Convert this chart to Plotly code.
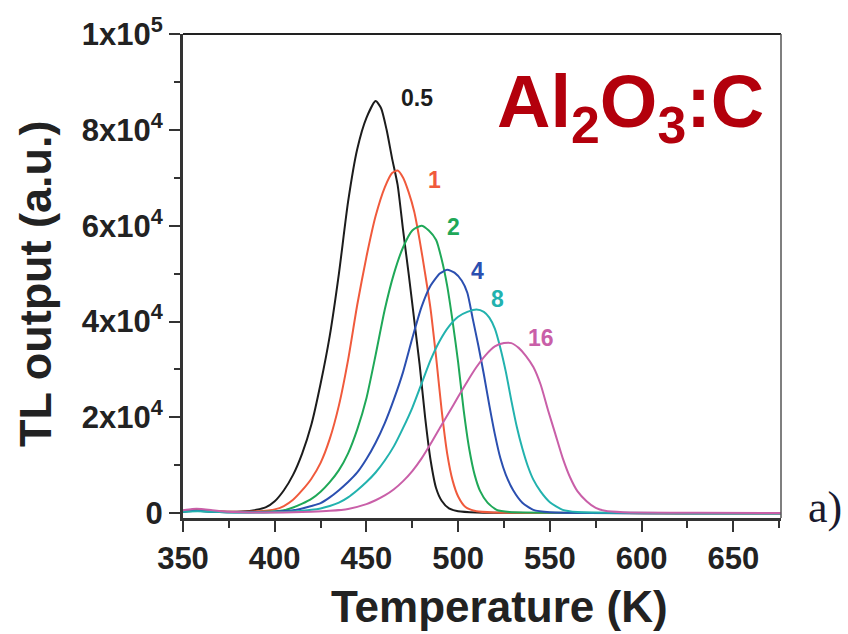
import plotly.graph_objects as go

# ---- data ----
T_05 = [350, 358, 366, 374, 382, 390, 395, 400, 405, 410, 415, 420, 425, 430, 435, 440, 445, 450, 455, 458, 461, 464, 467, 470, 473, 476, 479, 482, 485, 488, 491, 495, 500, 510, 540, 600, 676]
I_05 = [500, 700, 400, 300, 350, 700, 1200, 2500, 4800, 8000, 12500, 18500, 27000, 37000, 50000, 65000, 76000, 82500, 86000, 84500, 80000, 74000, 68500, 59000, 50000, 40500, 31000, 20000, 11000, 5200, 2600, 1000, 400, 150, 50, 0, 0]

T_1 = [350, 358, 366, 374, 382, 390, 400, 405, 410, 415, 420, 425, 430, 435, 440, 445, 450, 455, 460, 464, 467, 470, 473, 476, 479, 482, 485, 488, 491, 494, 497, 500, 504, 510, 520, 560, 620, 676]
I_1 = [400, 600, 400, 300, 300, 400, 800, 1500, 2800, 4800, 7200, 10500, 15500, 22500, 32000, 43500, 53500, 62000, 68000, 71000, 71500, 70000, 67000, 63000, 57000, 50000, 42500, 32500, 21500, 12500, 6800, 3500, 1300, 400, 150, 50, 0, 0]

T_2 = [350, 358, 366, 374, 382, 390, 400, 405, 410, 415, 420, 425, 430, 435, 440, 445, 450, 455, 460, 465, 470, 475, 480, 484, 488, 491, 494, 497, 500, 503, 506, 509, 512, 516, 521, 528, 560, 620, 676]
I_2 = [300, 500, 300, 200, 200, 250, 400, 600, 1200, 2000, 3000, 4500, 6500, 9000, 12500, 17500, 24000, 33000, 42500, 50000, 55500, 59000, 60000, 59000, 57000, 53000, 47500, 40000, 31500, 21500, 13500, 8000, 4600, 2200, 700, 250, 80, 0, 0]

T_4 = [350, 358, 366, 374, 382, 390, 400, 410, 415, 420, 425, 430, 435, 440, 445, 450, 455, 460, 465, 470, 475, 480, 485, 490, 494, 498, 502, 505, 508, 511, 514, 517, 520, 523, 526, 530, 535, 541, 550, 580, 630, 676]
I_4 = [300, 500, 300, 200, 200, 200, 300, 600, 1000, 1500, 2100, 3300, 4800, 6500, 8500, 11300, 14700, 18800, 23800, 29500, 36500, 43000, 47500, 50000, 50800, 50200, 48500, 46000, 40500, 35000, 29000, 22500, 16500, 11500, 8000, 4800, 2200, 700, 200, 50, 0, 0]

T_8 = [350, 358, 366, 374, 382, 390, 400, 410, 415, 420, 425, 430, 435, 440, 445, 450, 455, 460, 465, 470, 475, 480, 485, 490, 495, 500, 505, 510, 514, 517, 520, 523, 526, 529, 532, 535, 538, 541, 545, 550, 557, 565, 590, 630, 676]
I_8 = [300, 400, 300, 200, 150, 150, 200, 350, 500, 700, 1000, 1500, 2200, 3300, 4800, 6500, 8500, 11000, 14000, 17800, 22000, 27000, 32000, 36000, 39000, 41000, 42000, 42500, 42000, 40800, 38500, 34500, 29500, 23500, 18000, 13500, 9800, 7000, 4500, 2300, 700, 250, 80, 0, 0]

T_16 = [350, 355, 360, 366, 374, 382, 390, 400, 410, 420, 430, 440, 450, 455, 460, 465, 470, 475, 480, 485, 490, 495, 500, 505, 510, 515, 520, 525, 529, 533, 537, 541, 545, 549, 553, 557, 561, 565, 570, 575, 580, 590, 630, 676]
I_16 = [600, 900, 900, 600, 300, 200, 150, 150, 200, 300, 500, 900, 1900, 2700, 3700, 5000, 6700, 8800, 11400, 14500, 17800, 21000, 24300, 27500, 30500, 33000, 34800, 35500, 35500, 34500, 32800, 30500, 26800, 21500, 16500, 11500, 7500, 4600, 2500, 1100, 500, 200, 100, 50]

series_names = ["0.5", "1", "2", "4", "8", "16"]
series_T = [T_05, T_1, T_2, T_4, T_8, T_16]
series_I = [I_05, I_1, I_2, I_4, I_8, I_16]
colors = ["#1c1c1c", "#f05a3c", "#1fa858", "#2b4fb0", "#22b2ae", "#c95fa8"]

# peak label anchor positions (data units)
label_T = [477.6, 486.9, 497.2, 510.3, 521.2, 545.2]
label_I = [86600, 69500, 59700, 50600, 44800, 36600]

x_ticks = [350, 400, 450, 500, 550, 600, 650]
y_ticks = [0, 20000, 40000, 60000, 80000, 100000]
y_ticktext = ["0", "2x10<sup>4</sup>", "4x10<sup>4</sup>", "6x10<sup>4</sup>",
              "8x10<sup>4</sup>", "1x10<sup>5</sup>"]

FONT = "Liberation Sans, Arial, sans-serif"
AXC = "#333333"

fig = go.Figure()
for name, T, I, c in zip(series_names, series_T, series_I, colors):
    fig.add_trace(go.Scatter(x=T, y=I, mode="lines", name=name,
                             line=dict(color=c, width=2, shape="spline", smoothing=0.6),
                             showlegend=False))

annotations = []
for name, tx, iy, c in zip(series_names, label_T, label_I, colors):
    annotations.append(dict(x=tx, y=iy, xref="x", yref="y", text=name, showarrow=False,
                            font=dict(family=FONT, size=23, color=c, weight="bold"),
                            xanchor="center", yanchor="middle"))

annotations += [
    dict(x=0.53, y=-0.183, xref="paper", yref="paper", text="Temperature (K)",
         showarrow=False, xanchor="center", yanchor="middle",
         font=dict(family=FONT, size=44, color="#222222", weight="bold")),
    dict(x=-0.2458, y=0.4835, xref="paper", yref="paper", text="TL output (a.u.)",
         showarrow=False, xanchor="center", yanchor="middle", textangle=-90,
         font=dict(family=FONT, size=45, color="#222222", weight="bold")),
    dict(x=0.7475, y=0.85, xref="paper", yref="paper", text="Al<sub>2</sub>O<sub>3</sub>:C",
         showarrow=False, xanchor="center", yanchor="middle",
         font=dict(family=FONT, size=74, color="#b3000c", weight="bold")),
    dict(x=1.0736, y=0.0226, xref="paper", yref="paper", text="a)",
         showarrow=False, xanchor="center", yanchor="middle",
         font=dict(family="Liberation Serif, Times New Roman, serif", size=44, color="#1a1a2e")),
]

fig.update_layout(
    width=848, height=634,
    margin=dict(l=183, r=67, t=32, b=116),
    paper_bgcolor="white", plot_bgcolor="white",
    annotations=annotations,
    shapes=[
        dict(type="line", xref="paper", yref="paper", x0=0, x1=1, y0=1, y1=1,
             line=dict(color="#222222", width=2)),
        dict(type="line", xref="paper", yref="paper", x0=1, x1=1, y0=0, y1=1,
             line=dict(color="#555555", width=1.5)),
    ],
)

fig.update_xaxes(
    range=[350, 676], showgrid=False, zeroline=False,
    showline=True, linecolor=AXC, linewidth=3,
    ticks="outside", ticklen=11, tickwidth=2, tickcolor=AXC,
    tickvals=x_ticks, ticktext=[str(v) for v in x_ticks],
    tickfont=dict(family=FONT, size=31, color="#222222", weight="bold"),
    minor=dict(ticks="outside", ticklen=7, tickwidth=2, tickcolor=AXC, dtick=25, tick0=350),
)
fig.update_yaxes(
    range=[-1000, 100000], showgrid=False, zeroline=False,
    showline=True, linecolor=AXC, linewidth=3,
    ticks="outside", ticklen=11, tickwidth=2, tickcolor=AXC,
    tickvals=y_ticks, ticktext=y_ticktext,
    tickfont=dict(family=FONT, size=31, color="#222222", weight="bold"),
    minor=dict(ticks="outside", ticklen=6, tickwidth=2, tickcolor=AXC, dtick=10000, tick0=0),
)

fig.write_html("out.html")
